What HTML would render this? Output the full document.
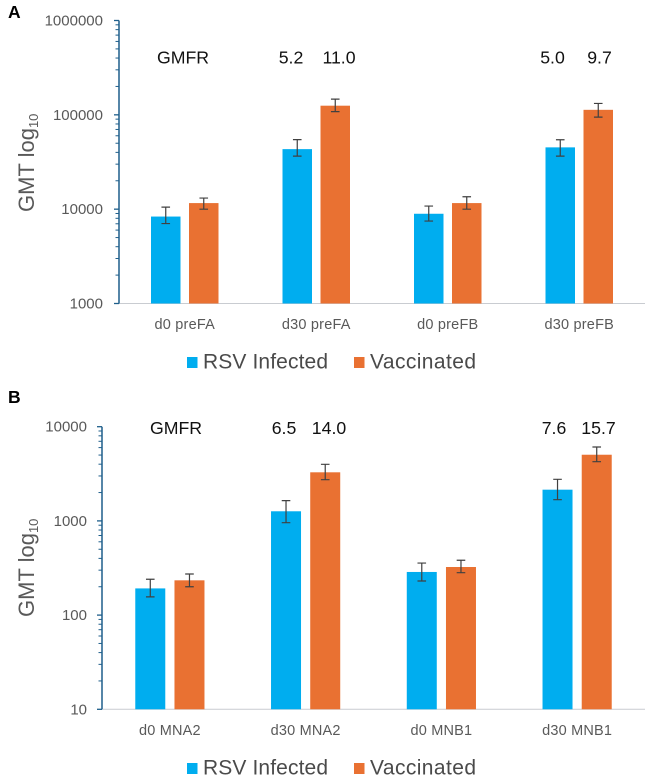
<!DOCTYPE html>
<html lang="en">
<head>
<meta charset="utf-8">
<title>GMT charts</title>
<style>
html,body{margin:0;padding:0;background:#fff;}
body{width:653px;height:782px;overflow:hidden;}
svg{display:block;font-family:"Liberation Sans",sans-serif;}
.tick{font-size:15px;fill:#595959;text-anchor:end;}
.cat{font-size:14.5px;fill:#595959;text-anchor:middle;letter-spacing:.2px;}
.gm{font-size:17.7px;fill:#111;text-anchor:middle;}
.leg{font-size:21px;fill:#4a4a4a;}
.title{font-size:22px;fill:#595959;}
.panel{font-size:17.5px;font-weight:bold;fill:#000;}
</style>
</head>
<body>
<svg id="fig" width="653" height="782" viewBox="0 0 653 782" xmlns="http://www.w3.org/2000/svg">
  <text class="panel" x="8" y="18">A</text>
  <text class="panel" x="8" y="403">B</text>

  <g id="chartA"></g>
  <g id="chartB"></g>

  <text class="title" transform="translate(34,212) rotate(-90)">GMT log<tspan font-size="13" dy="4">10</tspan></text>
  <text class="title" transform="translate(34,617) rotate(-90)">GMT log<tspan font-size="13" dy="4">10</tspan></text>

  <text class="gm" x="183" y="63.5">GMFR</text>
  <text class="gm" x="291" y="63.5">5.2</text>
  <text class="gm" x="339" y="63.5">11.0</text>
  <text class="gm" x="552.5" y="63.5">5.0</text>
  <text class="gm" x="599.5" y="63.5">9.7</text>

  <text class="gm" x="176" y="434">GMFR</text>
  <text class="gm" x="284" y="434">6.5</text>
  <text class="gm" x="329" y="434">14.0</text>
  <text class="gm" x="554" y="434">7.6</text>
  <text class="gm" x="598.5" y="434">15.7</text>

  <g>
    <rect x="187" y="357" width="10.5" height="11" fill="#00ADEF"/>
    <text class="leg" x="203" y="368.5" textLength="125">RSV Infected</text>
    <rect x="354" y="357" width="10.5" height="11" fill="#E97132"/>
    <text class="leg" x="370" y="368.5" textLength="106">Vaccinated</text>
  </g>
  <g>
    <rect x="187" y="763" width="10.5" height="11" fill="#00ADEF"/>
    <text class="leg" x="203" y="774.5" textLength="125">RSV Infected</text>
    <rect x="354" y="763" width="10.5" height="11" fill="#E97132"/>
    <text class="leg" x="370" y="774.5" textLength="106">Vaccinated</text>
  </g>
</svg>
<script>
// Panel A data
var categoriesA = ["d0 preFA", "d30 preFA", "d0 preFB", "d30 preFB"];
var infectedA = [8350, 43300, 8940, 45200];
var infectedHighA = [10520, 54600, 10790, 54400];
var infectedLowA = [7040, 36500, 7480, 36500];
var vaccinatedA = [11600, 125000, 11600, 113000];
var vaccinatedHighA = [13110, 146700, 13530, 132000];
var vaccinatedLowA = [10000, 108100, 10000, 94600];
var tickLabelsA = ["1000", "10000", "100000", "1000000"];

// Panel B data
var categoriesB = ["d0 MNA2", "d30 MNA2", "d0 MNB1", "d30 MNB1"];
var infectedB = [192, 1265, 287, 2145];
var infectedHighB = [240, 1640, 357, 2765];
var infectedLowB = [156, 957, 230, 1680];
var vaccinatedB = [234, 3280, 324, 5040];
var vaccinatedHighB = [273, 3990, 382, 6090];
var vaccinatedLowB = [200, 2737, 282, 4250];
var tickLabelsB = ["10", "100", "1000", "10000"];

var NS = "http://www.w3.org/2000/svg";
function mk(parent, tag, attrs, text) {
  var el = document.createElementNS(NS, tag);
  for (var k in attrs) el.setAttribute(k, attrs[k]);
  if (text !== undefined) el.textContent = text;
  parent.appendChild(el);
  return el;
}
function drawChart(root, cfg) {
  var min = Number(cfg.ticks[0]);
  var max = Number(cfg.ticks[cfg.ticks.length - 1]);
  function y(v) {
    return cfg.bottom - (Math.log10(v) - Math.log10(min)) / (Math.log10(max) - Math.log10(min)) * (cfg.bottom - cfg.top);
  }
  var band = (cfg.right - cfg.left) / cfg.categories.length;
  function x(i) { return cfg.left + band * (i + 0.5); }

  var base = mk(root, "line", {x1: cfg.left, x2: cfg.right, y1: cfg.bottom, y2: cfg.bottom, stroke: "#c9ccd1", "stroke-width": 1});
  
  

  cfg.categories.forEach(function (cat, i) {
    var series = [
      {name: "infected", color: "#00ADEF", val: cfg.inf[i], hi: cfg.infHi[i], lo: cfg.infLo[i], cx: x(i) - cfg.offset},
      {name: "vaccinated", color: "#E97132", val: cfg.vac[i], hi: cfg.vacHi[i], lo: cfg.vacLo[i], cx: x(i) + cfg.offset}
    ];
    series.forEach(function (s) {
      var top = y(s.val);
      var bar = mk(root, "rect", {x: s.cx - cfg.barW / 2, y: top, width: cfg.barW, height: cfg.bottom - top, fill: s.color});
      
      
      var eb = mk(root, "path", {
        d: "M" + s.cx + " " + y(s.hi) + "V" + y(s.lo) +
           "M" + (s.cx - 4.3) + " " + y(s.hi) + "h8.6" +
           "M" + (s.cx - 4.3) + " " + y(s.lo) + "h8.6",
        fill: "none", stroke: "#404040", "stroke-width": 1.2
      });
      
      
    });
    var lab = mk(root, "text", {"class": "cat", x: x(i), y: cfg.catY}, cat);
    
    
  });

  var axis = mk(root, "line", {x1: cfg.left, x2: cfg.left, y1: cfg.top, y2: cfg.bottom, stroke: "#1F5F8B", "stroke-width": 1.5});
  
  

  cfg.ticks.forEach(function (t, i) {
    var v = Number(t);
    var maj = mk(root, "line", {x1: cfg.left - 5, x2: cfg.left, y1: y(v), y2: y(v), stroke: "#1F5F8B", "stroke-width": 1.3});
    
    
    var lab = mk(root, "text", {"class": "tick", x: cfg.left - cfg.labelGap, y: y(v) + 5}, t);
    
    
    if (i < cfg.ticks.length - 1) {
      for (var m = 2; m <= 9; m++) {
        var minor = mk(root, "line", {x1: cfg.left - 3.5, x2: cfg.left, y1: y(v * m), y2: y(v * m), stroke: "#1F5F8B", "stroke-width": 1});
        
        
      }
    }
  });
}
drawChart(document.getElementById("chartA"), {
  categories: categoriesA, inf: infectedA, infHi: infectedHighA, infLo: infectedLowA,
  vac: vaccinatedA, vacHi: vaccinatedHighA, vacLo: vaccinatedLowA, ticks: tickLabelsA,
  left: 119, right: 645, top: 20.5, bottom: 303.5, offset: 19, barW: 29.5, catY: 329, labelGap: 16
});
drawChart(document.getElementById("chartB"), {
  categories: categoriesB, inf: infectedB, infHi: infectedHighB, infLo: infectedLowB,
  vac: vaccinatedB, vacHi: vaccinatedHighB, vacLo: vaccinatedLowB, ticks: tickLabelsB,
  left: 102, right: 645, top: 426.7, bottom: 709.3, offset: 19.6, barW: 30, catY: 735, labelGap: 15
});
</script>
</body>
</html>
